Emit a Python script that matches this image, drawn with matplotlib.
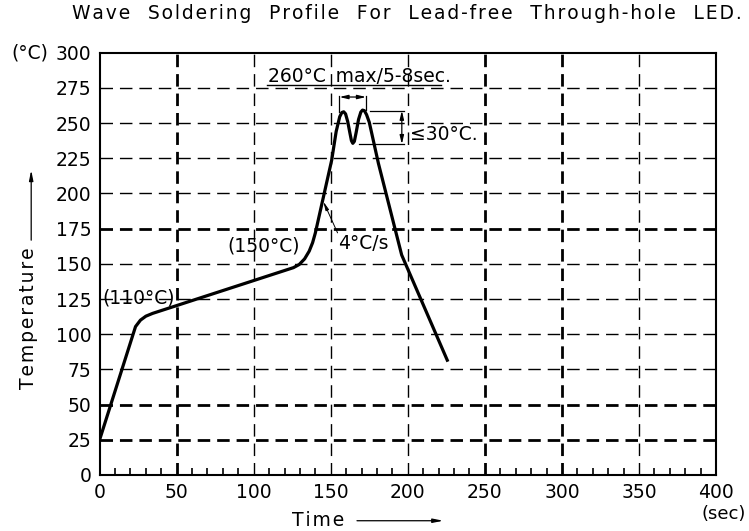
import numpy as np
import matplotlib
matplotlib.use("Agg")
import matplotlib.pyplot as plt

plt.rcParams["font.family"] = ["DejaVu Sans"]
plt.rcParams["lines.scale_dashes"] = False

# profile (sec, °C)
time_s = [0, 23.3, 26.5, 30.0, 34.4, 125.8, 129.5, 133.0, 136.0, 138.2, 140.0,
          150.6, 153.5, 155.8, 157.2, 158.4, 159.6, 161.0, 162.4, 163.4, 164.3,
          165.3, 166.5, 168.0, 169.5, 170.6, 171.8, 173.2, 175.0, 180.9, 196.0,
          226.0]
temp_c = [25, 105.4, 110.0, 112.8, 114.8, 147.3, 149.5, 153.5, 159.0, 165.0, 172.0,
          223.7, 244.0, 254.5, 257.5, 258.0, 256.5, 251.0, 243.0, 237.5, 235.6,
          237.0, 243.5, 252.5, 257.8, 259.2, 258.8, 256.0, 250.5, 221.4, 156.3,
          80.5]

x_ticks = list(range(0, 401, 50))
y_ticks = list(range(0, 301, 25))
x_minor = [v for v in range(10, 400, 10) if v % 50]
vgrid_thick = [50, 250, 300]
vgrid_thin = [100, 150, 200, 350]
hgrid_thick = [25, 50, 175]
hgrid_thin = [75, 100, 125, 150, 200, 225, 250, 275]

TITLE = "Wave Soldering Profile For Lead-free Through-hole LED."
FS = 13.5


def spaced(s, gap="\u200a"):
    # the drawing's lettering is wide, pad it out a bit
    return gap.join(s)


fig = plt.figure(figsize=(7.49, 5.31), dpi=100)
ax = fig.add_axes([0.133, 0.1055, 0.823, 0.7953])
ax.set_xlim(0, 400)
ax.set_ylim(0, 300)

thin = dict(color="k", lw=1.0, linestyle=(0, (9, 5)), zorder=1)
thick = dict(color="k", lw=2.0, linestyle=(0, (9, 5)), zorder=1)
for v in vgrid_thin:
    ax.axvline(v, **thin)
for v in vgrid_thick:
    ax.axvline(v, **thick)
for v in hgrid_thin:
    ax.axhline(v, **thin)
for v in hgrid_thick:
    ax.axhline(v, **thick)

ax.plot(time_s, temp_c, color="k", lw=2.3, solid_joinstyle="round",
        solid_capstyle="butt", zorder=3)

for s in ax.spines.values():
    s.set_linewidth(1.5)
ax.set_xticks(x_ticks)
ax.set_yticks(y_ticks)
ax.set_xticks(x_minor, minor=True)
ax.tick_params(axis="both", which="major", length=0, pad=6, labelsize=FS)
ax.tick_params(axis="x", which="minor", direction="in", length=5, width=1.2)

# axis captions
ax.text(-57, 300, "(°C)", ha="left", va="center", fontsize=FS, clip_on=False)
ax.text(405, -27.5, "(sec)", ha="center", va="center", fontsize=FS - 0.5,
        clip_on=False)
ax.text(141.5, -32, spaced("Time"), ha="center", va="center",
        fontsize=FS, clip_on=False)
ax.annotate("", xy=(223, -32.5), xytext=(167, -32.5), xycoords="data",
            arrowprops=dict(arrowstyle="-|>,head_length=0.6,head_width=0.12",
                            color="k", lw=0.9, shrinkA=0, shrinkB=0),
            annotation_clip=False)
ax.text(-0.116, 0.372, spaced("Temperature"), rotation=90,
        ha="center", va="center", fontsize=FS, transform=ax.transAxes)
ax.annotate("", xy=(-0.111, 0.722), xytext=(-0.111, 0.556),
            xycoords="axes fraction",
            arrowprops=dict(arrowstyle="-|>,head_length=0.6,head_width=0.12",
                            color="k", lw=0.9, shrinkA=0, shrinkB=0),
            annotation_clip=False)

fig.text(0.543, 0.9755, spaced(TITLE.replace(" ", "  ")), ha="center",
         va="center", fontsize=FS)

# annotations
ax.text(2, 125.5, "(110°C)", ha="left", va="center", fontsize=FS)
ax.text(106.5, 162.5, "(150°C)", ha="center", va="center", fontsize=FS)
ax.text(154.5, 164.5, "4°C/s", ha="left", va="center", fontsize=FS)
ax.annotate("", xy=(145.2, 194.2), xytext=(154.4, 172),
            arrowprops=dict(arrowstyle="-|>,head_length=0.5,head_width=0.1",
                            color="k", lw=0.7, shrinkA=0, shrinkB=0))
ax.text(109, 282.9, "260°C \u2009max/5-8sec.", ha="left", va="center",
        fontsize=FS)
ax.plot([108.5, 221.5], [277, 277], color="k", lw=1.0)

# peak spacing dimension
ax.plot([155.6, 155.6], [258, 269.5], color="k", lw=0.9)
ax.plot([172.9, 172.9], [259, 269.5], color="k", lw=0.9)
ax.annotate("", xy=(155.6, 268.5), xytext=(172.9, 268.5),
            arrowprops=dict(arrowstyle="<|-|>,head_length=0.5,head_width=0.12",
                            color="k", lw=0.9, shrinkA=0, shrinkB=0))
# dip depth dimension
ax.plot([175.5, 197.5], [258.8, 258.8], color="k", lw=0.9)
ax.plot([168.5, 197.5], [235, 235], color="k", lw=0.9)
ax.annotate("", xy=(196.1, 258.8), xytext=(196.1, 235),
            arrowprops=dict(arrowstyle="<|-|>,head_length=0.5,head_width=0.12",
                            color="k", lw=0.9, shrinkA=0, shrinkB=0))
ax.text(201.5, 242, "≤30°C.", ha="left", va="center", fontsize=FS)

fig.savefig("out.png", dpi=100)
